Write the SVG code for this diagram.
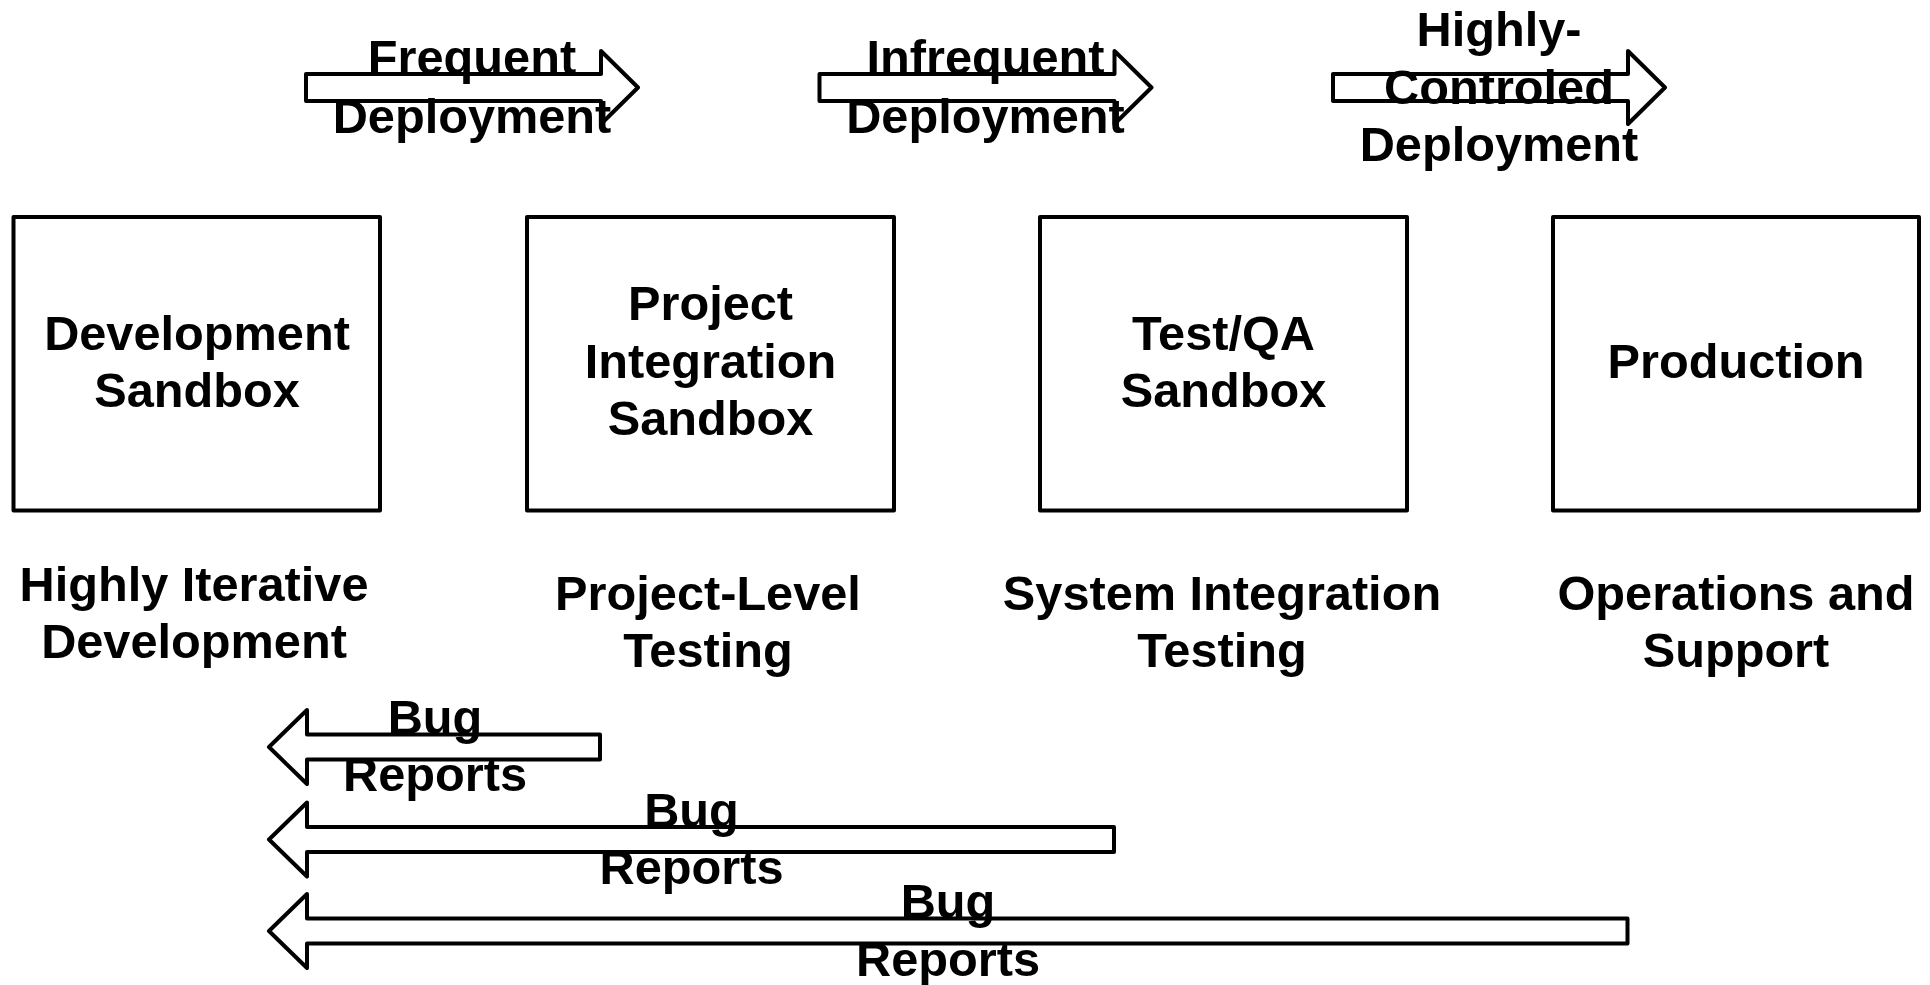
<svg xmlns="http://www.w3.org/2000/svg" width="1930" height="985" viewBox="0 0 1930 985">
<style>
.box{fill:#fff;stroke:#000;stroke-width:4;stroke-linejoin:round}
.arr{fill:#fff;stroke:#000;stroke-width:4;stroke-linejoin:round}
text{font-family:"Liberation Sans",Arial,sans-serif;font-weight:bold;font-size:48.7px;fill:#000;text-anchor:middle}
</style>
<rect width="1930" height="985" fill="#fff"/>
<g id="connectors">
  <g id="deploy-frequent">
    <path class="arr" d="M306,74 L601,74 L601,51 L638,87.5 L601,124 L601,101 L306,101 Z"/>
    <text x="472" y="74">Frequent</text>
    <text x="472" y="132.5">Deployment</text>
  </g>
  <g id="deploy-infrequent">
    <path class="arr" d="M819.5,74 L1114.5,74 L1114.5,51 L1151.5,87.5 L1114.5,124 L1114.5,101 L819.5,101 Z"/>
    <text x="985.5" y="74">Infrequent</text>
    <text x="985.5" y="132.5">Deployment</text>
  </g>
  <g id="deploy-controlled">
    <path class="arr" d="M1333,74 L1628,74 L1628,51 L1665,87.5 L1628,124 L1628,101 L1333,101 Z"/>
    <text x="1499" y="45.5">Highly-</text>
    <text x="1499" y="103.5">Controled</text>
    <text x="1499" y="161">Deployment</text>
  </g>
  <g id="bug-1">
    <path class="arr" d="M600,734.5 L307,734.5 L307,710 L269,747 L307,784 L307,759.5 L600,759.5 Z"/>
    <text x="435" y="734">Bug</text>
    <text x="435" y="791">Reports</text>
  </g>
  <g id="bug-2">
    <path class="arr" d="M1114,827 L307,827 L307,802.5 L269,839.5 L307,876.5 L307,852 L1114,852 Z"/>
    <text x="691.5" y="826.5">Bug</text>
    <text x="691.5" y="884">Reports</text>
  </g>
  <g id="bug-3">
    <path class="arr" d="M1627.5,918.5 L307,918.5 L307,894 L269,931 L307,968 L307,943.5 L1627.5,943.5 Z"/>
    <text x="948" y="918">Bug</text>
    <text x="948" y="975.5">Reports</text>
  </g>
</g>
<g id="node-dev">
  <rect class="box" x="13.5" y="217" width="366.5" height="293.5"/>
  <text x="197" y="349.5">Development</text>
  <text x="197" y="407">Sandbox</text>
</g>
<g id="node-project">
  <rect class="box" x="527" y="217" width="367" height="293.5"/>
  <text x="710.5" y="320">Project</text>
  <text x="710.5" y="377.5">Integration</text>
  <text x="710.5" y="435">Sandbox</text>
</g>
<g id="node-test">
  <rect class="box" x="1040" y="217" width="367" height="293.5"/>
  <text x="1223.5" y="349.5">Test/QA</text>
  <text x="1223.5" y="407">Sandbox</text>
</g>
<g id="node-prod">
  <rect class="box" x="1553" y="217" width="366" height="293.5"/>
  <text x="1736" y="377.5">Production</text>
</g>
<g id="label-dev">
  <text x="194" y="600.5">Highly Iterative</text>
  <text x="194" y="658">Development</text>
</g>
<g id="label-project">
  <text x="708" y="609.5">Project-Level</text>
  <text x="708" y="667">Testing</text>
</g>
<g id="label-test">
  <text x="1222" y="609.5">System Integration</text>
  <text x="1222" y="667">Testing</text>
</g>
<g id="label-prod">
  <text x="1736" y="609.5">Operations and</text>
  <text x="1736" y="667">Support</text>
</g>
</svg>
